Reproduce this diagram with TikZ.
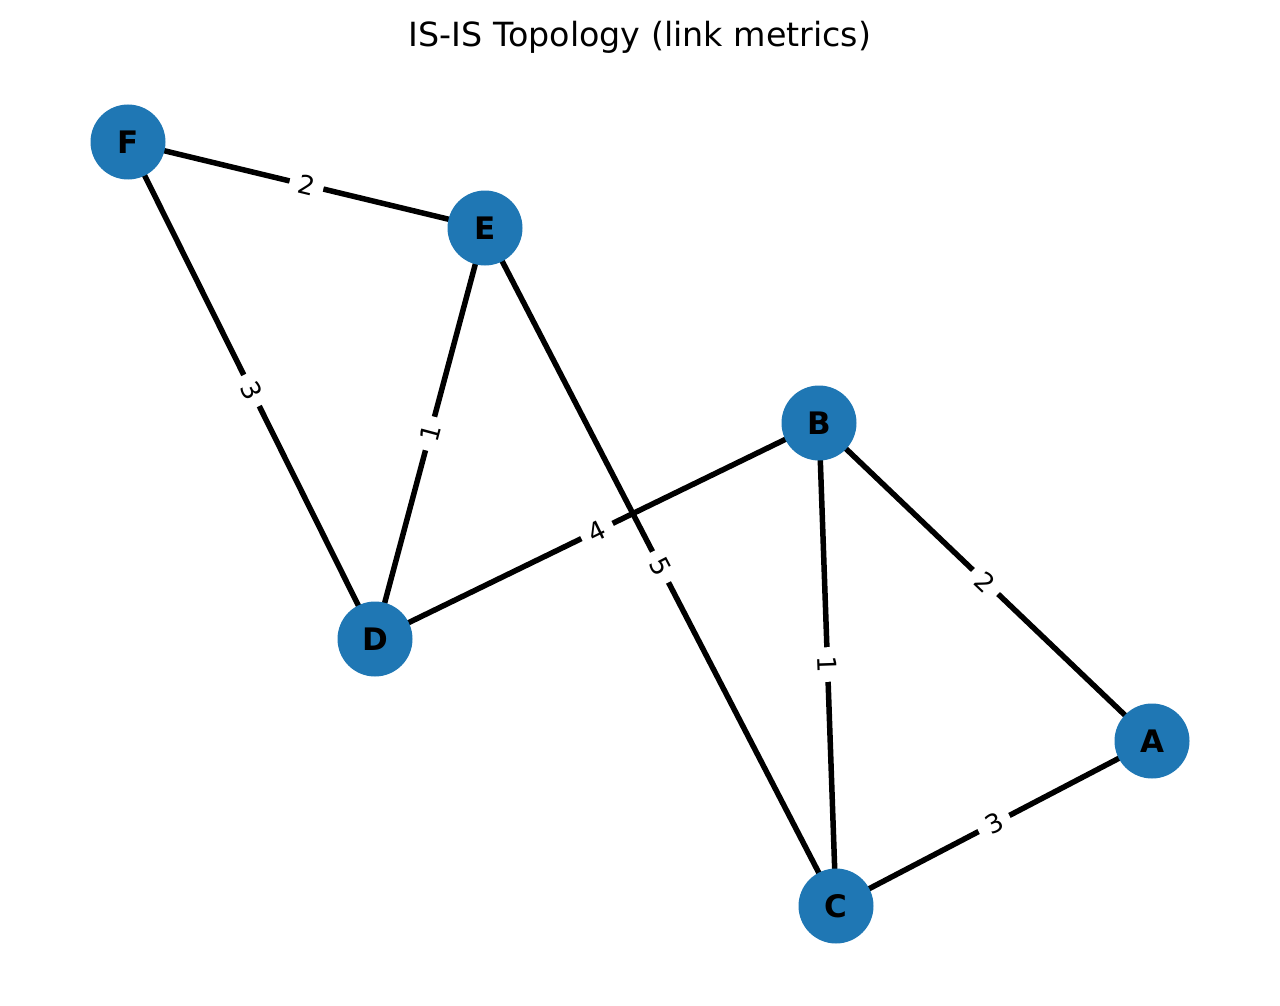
\documentclass[tikz,border=0pt]{standalone}
\usepackage{fontspec}
\setmainfont{DejaVu Sans}
\usepackage{tikz}
\usetikzlibrary{positioning, backgrounds}
\definecolor{nodeblue}{HTML}{1F77B4}
\tikzstyle{router}=[%
      circle, fill=nodeblue, draw=none, minimum size=75pt, inner sep=0pt,
      font=\fontsize{31}{31}\selectfont\bfseries
]
\tikzstyle{metric}=[%
      rectangle, fill=white, draw=none, rounded corners=6pt, inner sep=9pt, sloped,
      font=\fontsize{26}{26}\selectfont
]

\begin{document}
\begin{tikzpicture}[x=1pt, y=-1pt]
    \useasboundingbox (0,0) rectangle (1280,1006);
    \node[anchor=base, font=\fontsize{33.3}{33.3}\selectfont] (title) at (640,47) {IS-IS Topology (link metrics)};

    \node[router] (F) at (128,142) {F};
    \node[router] (E) at (485,228) {E};
    \node[router] (B) at (819,423) {B};
    \node[router] (D) at (375,639) {D};
    \node[router] (A) at (1152,741) {A};
    \node[router] (C) at (836,906) {C};

    \begin{scope}[on background layer]
    \path[line width=5.5pt]
          (F.center) edge node[metric] {2} (E.center)
          (F.center) edge node[metric] {3} (D.center)
          (E.center) edge node[metric] {1} (D.center)
          (E.center) edge node[metric] {5} (C.center)
          (D.center) edge node[metric] {4} (B.center)
          (B.center) edge node[metric] {1} (C.center)
          (B.center) edge node[metric] {2} (A.center)
          (C.center) edge node[metric] {3} (A.center)
    ;
    \end{scope}

  \end{tikzpicture}
\end{document}
